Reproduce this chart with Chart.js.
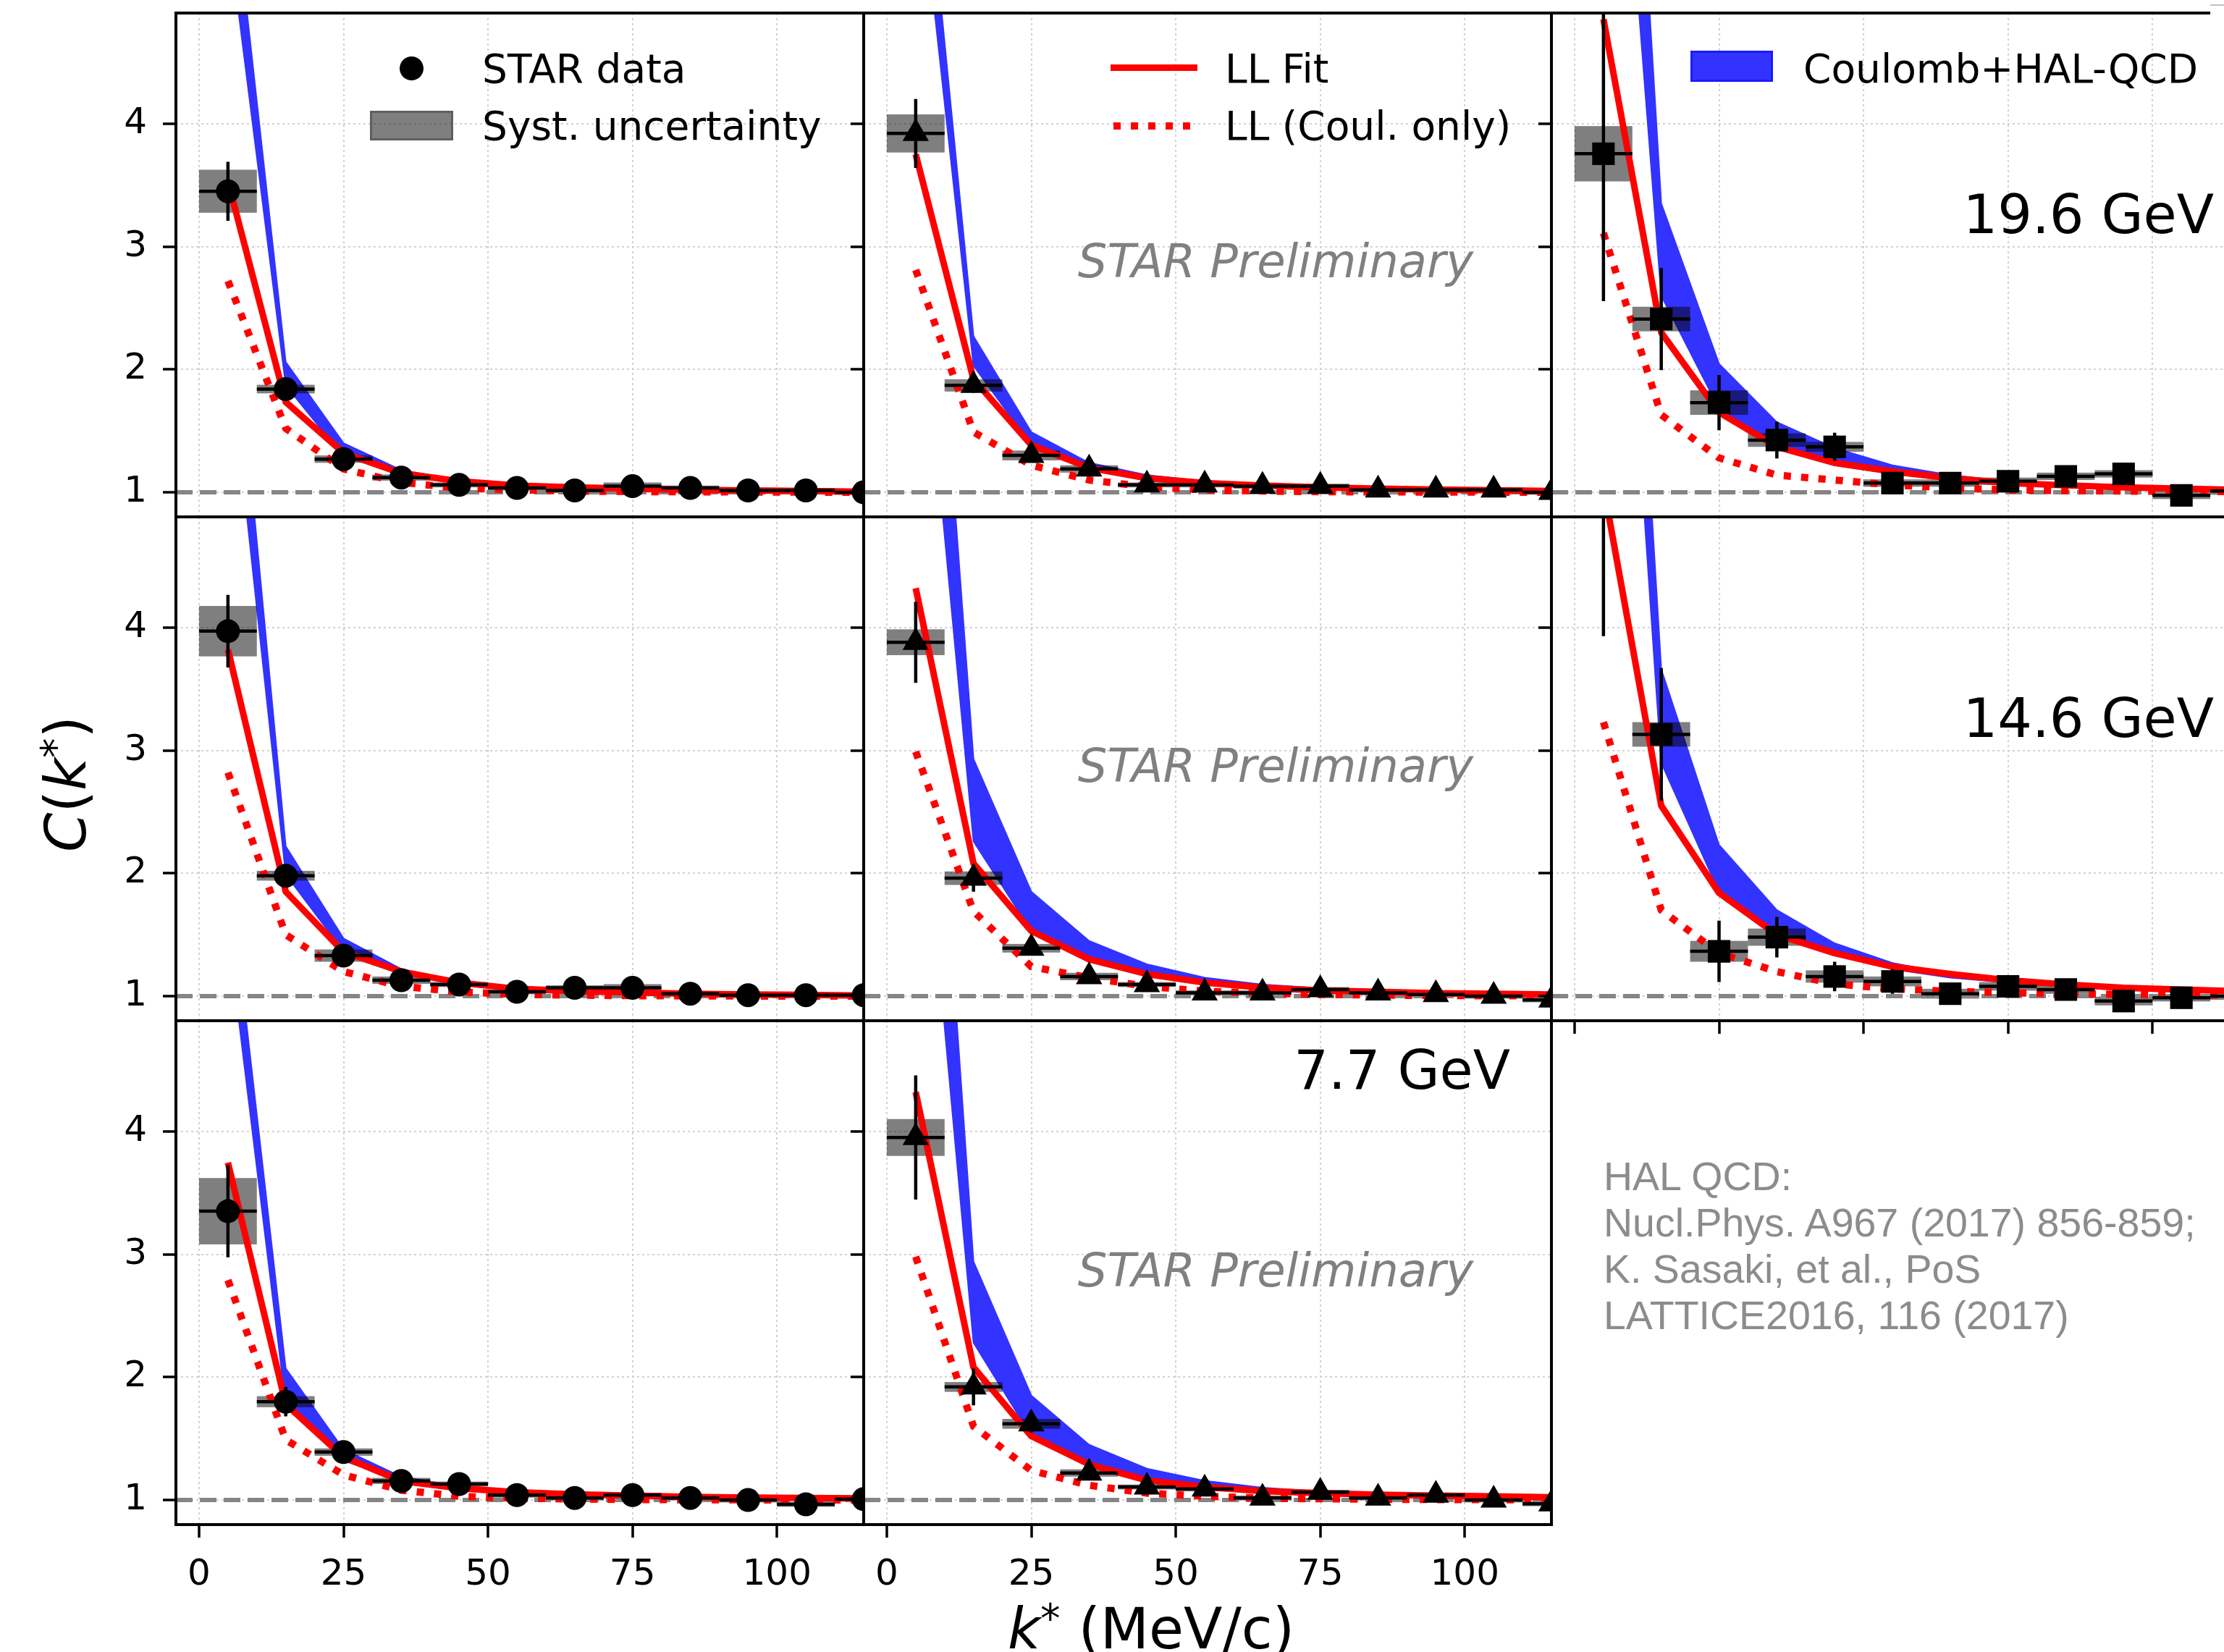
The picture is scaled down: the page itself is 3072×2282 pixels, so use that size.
<!DOCTYPE html>
<html><head><meta charset="utf-8">
<script src="https://cdn.jsdelivr.net/npm/chart.js@4"></script>
<style>
html,body{margin:0;padding:0;background:#fff;width:3072px;height:2282px;overflow:hidden;}
body{position:relative;}
canvas{position:absolute;z-index:1;}
.t{position:absolute;white-space:nowrap;font-family:"DejaVu Sans";line-height:1;z-index:5;color:#000;}
.sym{position:absolute;z-index:5;box-sizing:border-box;}
.m{font-style:italic;}
sup{font-size:55px;vertical-align:22px;line-height:0;font-style:normal;}
</style></head><body>

<!-- legends -->
<div class="sym" style="left:552px;top:78px;width:33px;height:33px;border-radius:50%;background:#000"></div>
<div class="t" style="left:666px;top:68px;font-size:55px;">STAR data</div>
<div class="sym" style="left:511px;top:153px;width:115px;height:41px;background:rgba(0,0,0,0.5);border:3px solid rgba(0,0,0,0.25)"></div>
<div class="t" style="left:666px;top:147px;font-size:55px;">Syst. uncertainty</div>

<div class="sym" style="left:1534px;top:89px;width:120px;height:9px;background:#ff0000"></div>
<div class="t" style="left:1692px;top:68px;font-size:55px;">LL Fit</div>
<div class="sym" style="left:1538px;top:169px;width:114px;height:10px;background:repeating-linear-gradient(to right,#ff0000 0 10px,transparent 10px 24px)"></div>
<div class="t" style="left:1692px;top:147px;font-size:55px;">LL (Coul. only)</div>

<div class="sym" style="left:2335px;top:70px;width:114px;height:43px;background:#3333ff;border:3px solid #1a1aff"></div>
<div class="t" style="left:2491px;top:68px;font-size:55px;">Coulomb+HAL-QCD</div>

<!-- energy labels -->
<div class="t" style="left:3058px;top:259px;font-size:75px;transform:translateX(-100%);">19.6 GeV</div>
<div class="t" style="left:3058px;top:955px;font-size:75px;transform:translateX(-100%);">14.6 GeV</div>
<div class="t" style="left:2086px;top:1441px;font-size:75px;transform:translateX(-100%);">7.7 GeV</div>

<!-- preliminary -->
<div class="t" style="left:1762px;top:329px;font-size:64px;font-style:italic;color:#808080;transform:translateX(-50%);">STAR Preliminary</div>
<div class="t" style="left:1762px;top:1026px;font-size:64px;font-style:italic;color:#808080;transform:translateX(-50%);">STAR Preliminary</div>
<div class="t" style="left:1762px;top:1723px;font-size:64px;font-style:italic;color:#808080;transform:translateX(-50%);">STAR Preliminary</div>

<!-- reference note -->
<div class="t" style="left:2215px;top:1593px;font-size:55.5px;line-height:64px;font-family:'Liberation Sans',Arial,sans-serif;color:#8c8c8c;">HAL QCD:<br>Nucl.Phys. A967 (2017) 856-859;<br>K. Sasaki, et al., PoS<br>LATTICE2016, 116 (2017)</div>

<!-- axis titles -->
<div class="t" style="left:-59px;top:1044px;width:300px;height:78px;line-height:78px;font-size:78px;text-align:center;transform:rotate(-90deg);"><span class="m">C</span>(<span class="m">k</span><sup>*</sup>)</div>
<div class="t" style="left:1290px;top:2211px;width:600px;height:78px;line-height:78px;font-size:78px;text-align:center;"><span class="m">k</span><sup>*</sup> (MeV/c)</div>

<div class="sym" style="left:3053px;top:0px;width:19px;height:28px;background:#fff;z-index:6;"></div>
<div class="sym" style="left:3053px;top:6px;width:19px;height:2px;background:#c0c0c0;z-index:7;"></div>

<script>
// ---------------- data ----------------
const kBins = [5, 15, 25, 35, 45, 55, 65, 75, 85, 95, 105, 115];
const binHalfWidth = 5;
const baseline = 1;
const xTickValues = [0, 25, 50, 75, 100];
const xTickLabels = ['0', '25', '50', '75', '100'];
const yTickValues = [1, 2, 3, 4];
const yTickLabels = ['1', '2', '3', '4'];
const xRange = [-4, 115];
const yRange = [0.8, 4.9];

// 19.6 GeV - circles
const C_196_a     = [3.45, 1.84, 1.27, 1.12, 1.06, 1.035, 1.015, 1.05, 1.035, 1.015, 1.015, 1.0];
const stat_196_a  = [0.24, 0.05, 0.035, 0.025, 0.02, 0.02, 0.02, 0.02, 0.02, 0.02, 0.02, 0.02];
const syst_196_a  = [0.175, 0.035, 0.03, 0.025, 0.02, 0.02, 0.02, 0.03, 0.02, 0.02, 0.02, 0.02];
const fit_196_a   = [3.53, 1.735, 1.32, 1.155, 1.09, 1.055, 1.04, 1.03, 1.02, 1.015, 1.01, 1.005];
const coul_196_a  = [2.72, 1.52, 1.19, 1.08, 1.035, 1.02, 1.01, 1.006, 1.004, 1.002, 1.001, 1.0];
const halLo_196_a = [5.59, 1.87, 1.29, 1.155, 1.09, 1.055, 1.04, 1.03, 1.02, 1.015, 1.01, 1.005];
const halHi_196_a = [6.3, 2.06, 1.40, 1.18, 1.10, 1.065, 1.045, 1.035, 1.025, 1.018, 1.013, 1.008];

// 19.6 GeV - triangles
const C_196_b     = [3.92, 1.87, 1.30, 1.19, 1.06, 1.06, 1.05, 1.05, 1.02, 1.02, 1.02, 1.0];
const stat_196_b  = [0.28, 0.06, 0.04, 0.03, 0.025, 0.02, 0.02, 0.02, 0.02, 0.02, 0.02, 0.02];
const syst_196_b  = [0.155, 0.05, 0.04, 0.03, 0.02, 0.02, 0.02, 0.02, 0.02, 0.02, 0.02, 0.02];
const fit_196_b   = [3.75, 1.92, 1.385, 1.2, 1.115, 1.075, 1.055, 1.04, 1.03, 1.022, 1.016, 1.01];
const coul_196_b  = [2.81, 1.49, 1.22, 1.10, 1.045, 1.02, 1.01, 1.005, 1.003, 1.002, 1.001, 1.0];
const halLo_196_b = [6.31, 2.03, 1.385, 1.2, 1.12, 1.08, 1.06, 1.045, 1.033, 1.025, 1.018, 1.012];
const halHi_196_b = [7.05, 2.27, 1.49, 1.24, 1.14, 1.09, 1.068, 1.05, 1.038, 1.028, 1.02, 1.014];

// 19.6 GeV - squares
const C_196_c     = [3.755, 2.41, 1.73, 1.425, 1.37, 1.075, 1.075, 1.09, 1.13, 1.15, 0.975, 1.01];
const stat_196_c  = [1.2, 0.415, 0.225, 0.15, 0.115, 0.09, 0.07, 0.06, 0.05, 0.05, 0.05, 0.05];
const syst_196_c  = [0.225, 0.10, 0.10, 0.055, 0.04, 0.03, 0.03, 0.03, 0.03, 0.03, 0.03, 0.03];
const fit_196_c   = [4.85, 2.30, 1.65, 1.37, 1.24, 1.17, 1.115, 1.075, 1.057, 1.04, 1.03, 1.02];
const coul_196_c  = [3.11, 1.63, 1.28, 1.14, 1.10, 1.06, 1.035, 1.02, 1.013, 1.01, 1.008, 1.005];
const halLo_196_c = [8.6, 2.6, 1.68, 1.36, 1.22, 1.15, 1.10, 1.07, 1.055, 1.04, 1.03, 1.02];
const halHi_196_c = [11.1, 3.35, 2.045, 1.57, 1.36, 1.22, 1.14, 1.09, 1.065, 1.05, 1.038, 1.03];

// 14.6 GeV - circles
const C_146_a     = [3.97, 1.98, 1.33, 1.13, 1.095, 1.035, 1.068, 1.068, 1.02, 1.008, 1.008, 1.008];
const stat_146_a  = [0.295, 0.06, 0.04, 0.03, 0.025, 0.02, 0.02, 0.02, 0.02, 0.02, 0.02, 0.02];
const syst_146_a  = [0.205, 0.04, 0.05, 0.03, 0.02, 0.02, 0.02, 0.03, 0.02, 0.02, 0.02, 0.02];
const fit_146_a   = [3.82, 1.85, 1.36, 1.2, 1.11, 1.06, 1.04, 1.03, 1.02, 1.014, 1.01, 1.005];
const coul_146_a  = [2.82, 1.50, 1.20, 1.08, 1.035, 1.015, 1.008, 1.004, 1.002, 1.001, 1.0, 1.0];
const halLo_146_a = [6.33, 1.99, 1.365, 1.19, 1.11, 1.065, 1.045, 1.033, 1.023, 1.016, 1.012, 1.008];
const halHi_146_a = [7.18, 2.22, 1.47, 1.22, 1.12, 1.075, 1.05, 1.038, 1.027, 1.02, 1.015, 1.01];

// 14.6 GeV - triangles
const C_146_b     = [3.88, 1.96, 1.39, 1.16, 1.095, 1.027, 1.027, 1.054, 1.027, 1.014, 1.0, 0.97];
const stat_146_b  = [0.33, 0.11, 0.05, 0.04, 0.03, 0.025, 0.02, 0.02, 0.02, 0.02, 0.02, 0.02];
const syst_146_b  = [0.105, 0.055, 0.035, 0.03, 0.02, 0.02, 0.02, 0.02, 0.02, 0.02, 0.02, 0.02];
const fit_146_b   = [4.32, 2.08, 1.53, 1.30, 1.18, 1.11, 1.07, 1.046, 1.035, 1.024, 1.02, 1.014];
const coul_146_b  = [2.99, 1.69, 1.24, 1.15, 1.08, 1.04, 1.024, 1.014, 1.008, 1.005, 1.003, 1.002];
const halLo_146_b = [7.24, 2.26, 1.53, 1.30, 1.18, 1.11, 1.07, 1.05, 1.037, 1.026, 1.02, 1.015];
const halHi_146_b = [9.3, 2.93, 1.85, 1.45, 1.26, 1.15, 1.095, 1.065, 1.045, 1.033, 1.025, 1.018];

// 14.6 GeV - squares
const C_146_c     = [5.6, 3.13, 1.365, 1.48, 1.16, 1.12, 1.02, 1.08, 1.054, 0.96, 0.987, 1.0];
const stat_146_c  = [1.67, 0.54, 0.25, 0.165, 0.12, 0.10, 0.075, 0.06, 0.06, 0.05, 0.05, 0.05];
const syst_146_c  = [0.3, 0.10, 0.085, 0.07, 0.05, 0.04, 0.04, 0.035, 0.035, 0.035, 0.03, 0.03];
const fit_146_c   = [5.15, 2.55, 1.84, 1.50, 1.35, 1.24, 1.18, 1.13, 1.095, 1.068, 1.054, 1.04];
const coul_146_c  = [3.23, 1.70, 1.35, 1.20, 1.10, 1.06, 1.04, 1.027, 1.02, 1.014, 1.01, 1.008];
const halLo_146_c = [9.8, 2.9, 1.85, 1.50, 1.35, 1.22, 1.15, 1.11, 1.08, 1.06, 1.045, 1.035];
const halHi_146_c = [11.4, 3.66, 2.23, 1.70, 1.43, 1.27, 1.18, 1.13, 1.095, 1.07, 1.055, 1.045];

// 7.7 GeV - circles
const C_77_a     = [3.35, 1.80, 1.39, 1.155, 1.13, 1.04, 1.017, 1.04, 1.017, 1.0, 0.965, 1.007];
const stat_77_a  = [0.375, 0.12, 0.04, 0.03, 0.03, 0.02, 0.02, 0.02, 0.02, 0.02, 0.02, 0.02];
const syst_77_a  = [0.27, 0.045, 0.03, 0.025, 0.02, 0.02, 0.02, 0.02, 0.02, 0.02, 0.02, 0.02];
const fit_77_a   = [3.745, 1.78, 1.35, 1.155, 1.096, 1.063, 1.046, 1.036, 1.026, 1.02, 1.017, 1.013];
const coul_77_a  = [2.79, 1.49, 1.205, 1.08, 1.03, 1.015, 1.008, 1.004, 1.002, 1.001, 1.0, 1.0];
const halLo_77_a = [5.63, 1.78, 1.32, 1.155, 1.096, 1.063, 1.046, 1.036, 1.026, 1.02, 1.017, 1.013];
const halHi_77_a = [6.2, 2.07, 1.41, 1.19, 1.11, 1.07, 1.05, 1.04, 1.03, 1.022, 1.018, 1.014];

// 7.7 GeV - triangles
const C_77_b     = [3.95, 1.92, 1.62, 1.22, 1.106, 1.09, 1.017, 1.063, 1.017, 1.04, 1.0, 0.97];
const stat_77_b  = [0.505, 0.15, 0.07, 0.04, 0.03, 0.03, 0.02, 0.02, 0.02, 0.02, 0.02, 0.02];
const syst_77_b  = [0.15, 0.04, 0.04, 0.03, 0.02, 0.02, 0.02, 0.02, 0.02, 0.02, 0.02, 0.02];
const fit_77_b   = [4.32, 2.08, 1.52, 1.29, 1.16, 1.106, 1.073, 1.056, 1.043, 1.036, 1.03, 1.023];
const coul_77_b  = [2.98, 1.60, 1.24, 1.12, 1.056, 1.03, 1.015, 1.01, 1.006, 1.004, 1.002, 1.001];
const halLo_77_b = [7.42, 2.28, 1.52, 1.29, 1.17, 1.11, 1.073, 1.056, 1.043, 1.036, 1.03, 1.023];
const halHi_77_b = [9.7, 2.94, 1.85, 1.45, 1.255, 1.156, 1.10, 1.07, 1.05, 1.04, 1.033, 1.026];

// ---------------- layout / style ----------------
const BLUE = '#3333ff';
const RED = '#ff0000';
const GRID = '#d2d2d2';
const colLeft = [243, 1193, 2143];
const rowTop = [18, 714, 1410];
const PW = 950, PH = 696;

const panels = [
  {row:0, col:0, marker:'circle',   r:16.5, C:C_196_a, stat:stat_196_a, syst:syst_196_a, fit:fit_196_a, coul:coul_196_a, lo:halLo_196_a, hi:halHi_196_a, xTicks:false, xLabels:false},
  {row:0, col:1, marker:'triangle', r:21,   C:C_196_b, stat:stat_196_b, syst:syst_196_b, fit:fit_196_b, coul:coul_196_b, lo:halLo_196_b, hi:halHi_196_b, xTicks:false, xLabels:false},
  {row:0, col:2, marker:'rect',     r:22,   C:C_196_c, stat:stat_196_c, syst:syst_196_c, fit:fit_196_c, coul:coul_196_c, lo:halLo_196_c, hi:halHi_196_c, xTicks:false, xLabels:false},
  {row:1, col:0, marker:'circle',   r:16.5, C:C_146_a, stat:stat_146_a, syst:syst_146_a, fit:fit_146_a, coul:coul_146_a, lo:halLo_146_a, hi:halHi_146_a, xTicks:false, xLabels:false},
  {row:1, col:1, marker:'triangle', r:21,   C:C_146_b, stat:stat_146_b, syst:syst_146_b, fit:fit_146_b, coul:coul_146_b, lo:halLo_146_b, hi:halHi_146_b, xTicks:false, xLabels:false},
  {row:1, col:2, marker:'rect',     r:22,   C:C_146_c, stat:stat_146_c, syst:syst_146_c, fit:fit_146_c, coul:coul_146_c, lo:halLo_146_c, hi:halHi_146_c, xTicks:true,  xLabels:false},
  {row:2, col:0, marker:'circle',   r:16.5, C:C_77_a,  stat:stat_77_a,  syst:syst_77_a,  fit:fit_77_a,  coul:coul_77_a,  lo:halLo_77_a,  hi:halHi_77_a,  xTicks:true,  xLabels:true},
  {row:2, col:1, marker:'triangle', r:21,   C:C_77_b,  stat:stat_77_b,  syst:syst_77_b,  fit:fit_77_b,  coul:coul_77_b,  lo:halLo_77_b,  hi:halHi_77_b,  xTicks:true,  xLabels:true},
];

const pts = arr => kBins.map((k, i) => ({x: k, y: arr[i]}));

function zeroPad(s) { s.paddingTop = 0; s.paddingBottom = 0; s.paddingLeft = 0; s.paddingRight = 0; }

function makeErrPlugin(p) {
  const clipArea = (chart) => {
    const a = chart.chartArea, ctx = chart.ctx;
    ctx.beginPath(); ctx.rect(a.left, a.top, a.right - a.left, a.bottom - a.top); ctx.clip();
  };
  return {
    id: 'errs',
    afterDatasetDraw(chart, args) {
      if (chart.data.datasets[args.index].label !== 'bandHi') return;
      const xs = chart.scales.x, ys = chart.scales.y, ctx = chart.ctx;
      ctx.save(); clipArea(chart);
      ctx.fillStyle = 'rgba(0,0,0,0.5)';
      kBins.forEach((k, i) => {
        const x1 = xs.getPixelForValue(k - binHalfWidth), x2 = xs.getPixelForValue(k + binHalfWidth);
        const y1 = ys.getPixelForValue(p.C[i] + p.syst[i]), y2 = ys.getPixelForValue(p.C[i] - p.syst[i]);
        ctx.fillRect(x1, y1, x2 - x1, y2 - y1);
      });
      ctx.restore();
    },
    afterDatasetsDraw(chart) {
      const xs = chart.scales.x, ys = chart.scales.y, ctx = chart.ctx;
      ctx.save(); clipArea(chart);
      ctx.strokeStyle = '#000'; ctx.lineWidth = 4.5; ctx.lineCap = 'butt';
      kBins.forEach((k, i) => {
        const xc = xs.getPixelForValue(k), yc = ys.getPixelForValue(p.C[i]);
        ctx.beginPath();
        ctx.moveTo(xs.getPixelForValue(k - binHalfWidth), yc);
        ctx.lineTo(xs.getPixelForValue(k + binHalfWidth), yc);
        ctx.moveTo(xc, ys.getPixelForValue(p.C[i] - p.stat[i]));
        ctx.lineTo(xc, ys.getPixelForValue(p.C[i] + p.stat[i]));
        ctx.stroke();
      });
      ctx.restore();
    },
    afterDraw(chart) {
      const a = chart.chartArea, ctx = chart.ctx;
      ctx.save(); ctx.strokeStyle = '#000'; ctx.lineWidth = 4;
      ctx.strokeRect(a.left, a.top, a.right - a.left, a.bottom - a.top);
      ctx.restore();
    }
  };
}

Chart.defaults.font.family = 'DejaVu Sans';
Chart.defaults.animation = false;

panels.forEach(p => {
  const L = p.col === 0 ? 150 : 22;
  const B = p.xLabels ? 120 : (p.xTicks ? 24 : 0);
  const PT = 12, PR = 12, PB = 4;
  const cw = L + PW + PR, ch = PT + PH + B + PB;
  const cv = document.createElement('canvas');
  cv.width = cw; cv.height = ch;
  cv.style.width = cw + 'px'; cv.style.height = ch + 'px';
  cv.style.left = (colLeft[p.col] - L) + 'px';
  cv.style.top = (rowTop[p.row] - PT) + 'px';
  document.body.appendChild(cv);

  new Chart(cv.getContext('2d'), {
    type: 'line',
    data: {
      datasets: [
        {label:'bandLo', data: pts(p.lo), borderColor: BLUE, borderWidth: 2, pointRadius: 0, fill: false, order: 6, clip: 0, tension: 0},
        {label:'bandHi', data: pts(p.hi), borderColor: BLUE, backgroundColor: BLUE, borderWidth: 2, pointRadius: 0, fill: '-1', order: 5, clip: 0, tension: 0},
        {label:'ref', data: [{x: xRange[0], y: baseline}, {x: xRange[1], y: baseline}], borderColor: '#858585', borderWidth: 6, borderDash: [23, 10], pointRadius: 0, fill: false, order: 4, clip: 0},
        {label:'fit', data: pts(p.fit), borderColor: RED, borderWidth: 9, pointRadius: 0, fill: false, order: 3, clip: 0, borderJoinStyle: 'round'},
        {label:'coul', data: pts(p.coul), borderColor: RED, borderWidth: 10, borderDash: [10, 14], borderCapStyle: 'butt', pointRadius: 0, fill: false, order: 2, clip: 0},
        {label:'data', data: pts(p.C), showLine: false, pointStyle: p.marker, pointRadius: p.r, pointBackgroundColor: '#000', pointBorderWidth: 0, backgroundColor: '#000', borderWidth: 0, order: 1, clip: 0}
      ]
    },
    options: {
      responsive: false,
      devicePixelRatio: 1,
      animation: false,
      events: [],
      layout: {padding: {top: PT, right: PR, bottom: PB, left: 0}, autoPadding: false},
      plugins: {legend: {display: false}, tooltip: {enabled: false}, title: {display: false}},
      scales: {
        x: {
          type: 'linear', position: 'bottom', min: xRange[0], max: xRange[1],
          afterFit: s => { s.height = B; zeroPad(s); },
          afterBuildTicks: s => { s.ticks = xTickValues.map(v => ({value: v})); },
          grid: {color: GRID, lineWidth: 2, drawTicks: p.xTicks, tickLength: 18, tickColor: '#000', tickWidth: 3.5},
          border: {display: false, dash: [3, 4]},
          ticks: {display: p.xLabels, padding: 22, color: '#000', font: {size: 50, family: 'DejaVu Sans'}, maxRotation: 0, autoSkip: false,
                  callback: v => xTickLabels[xTickValues.indexOf(v)]}
        },
        y: {
          type: 'linear', position: 'left', min: yRange[0], max: yRange[1],
          afterFit: s => { s.width = L; zeroPad(s); },
          afterBuildTicks: s => { s.ticks = yTickValues.map(v => ({value: v})); },
          grid: {color: GRID, lineWidth: 2, drawTicks: true, tickLength: 18, tickColor: '#000', tickWidth: 3.5},
          border: {display: false, dash: [3, 4]},
          ticks: {display: p.col === 0, padding: 22, color: '#000', font: {size: 50, family: 'DejaVu Sans'}, autoSkip: false,
                  callback: v => yTickLabels[yTickValues.indexOf(v)]}
        }
      }
    },
    plugins: [makeErrPlugin(p)]
  });
});
</script>
</body></html>
